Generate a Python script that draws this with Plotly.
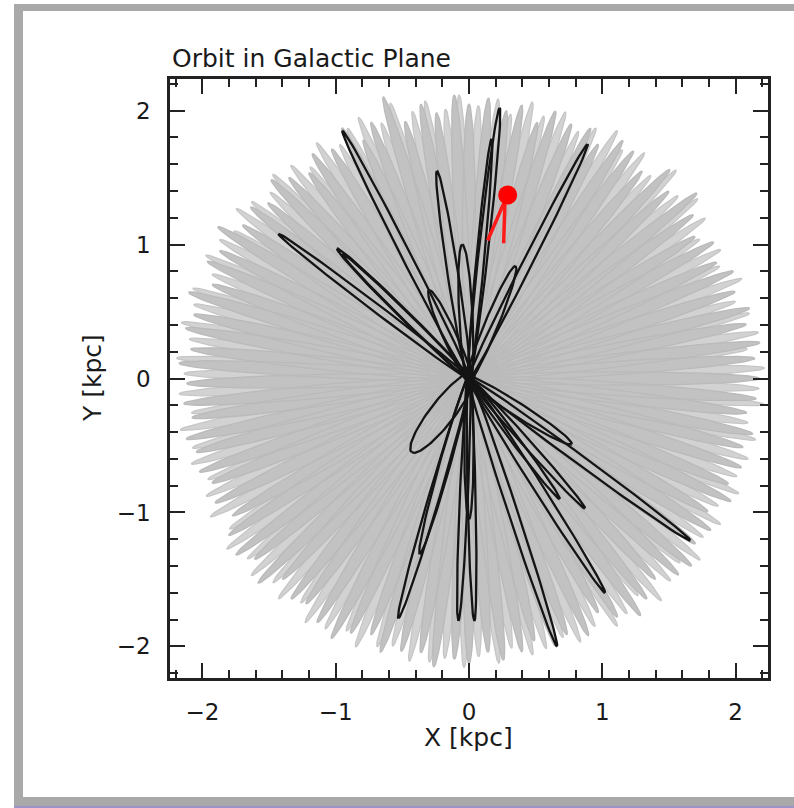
import numpy as np
import plotly.graph_objects as go

# ---- data (kpc) ----
# apocentre directions / radii of the grey background orbit loops
gray_tip_deg = [0, 4, 7, 11, 14, 18, 22, 25, 29, 32, 36, 39, 43, 46, 50, 54, 57, 61, 64, 68,
                72, 75, 79, 82, 86, 90, 93, 97, 100, 104, 107, 111, 114, 117, 121, 125, 128, 132,
                135, 139, 142, 146, 149, 153, 156, 160, 163, 167, 170, 174, 177, 181, 185, 188,
                192, 195, 199, 202, 206, 210, 213, 217, 220, 224, 227, 231, 234, 238, 242, 245,
                249, 252, 256, 260, 263, 267, 270, 274, 277, 281, 284, 288, 291, 295, 299, 302,
                306, 309, 313, 317, 320, 324, 328, 331, 335, 338, 342, 346, 349, 353, 356]
gray_tip_r = [2.18, 2.15, 2.20, 2.12, 2.17, 2.10, 2.14, 2.05, 2.10, 2.00, 2.08, 2.20, 2.05, 2.17,
              2.02, 2.10, 2.12, 2.00, 2.08, 2.05, 2.10, 1.98, 2.08, 2.02, 2.10, 2.05, 2.12, 2.00,
              2.08, 1.98, 2.20, 2.05, 1.95, 2.10, 2.00, 2.05, 1.95, 2.02, 2.10, 2.00, 2.08, 2.05,
              2.20, 2.10, 2.15, 2.05, 2.20, 2.12, 2.16, 2.10, 2.18, 2.12, 2.15, 2.10, 2.17, 2.12,
              2.14, 2.08, 2.12, 2.05, 2.15, 2.19, 2.10, 2.20, 2.05, 2.12, 2.08, 2.15, 2.20, 2.10,
              2.05, 2.15, 2.10, 2.08, 2.17, 2.10, 2.13, 2.05, 2.12, 2.08, 2.02, 2.10, 2.05, 2.12,
              2.00, 2.10, 2.19, 2.12, 2.05, 2.15, 2.18, 2.10, 2.14, 2.05, 2.17, 2.10, 2.15, 2.12,
              2.17, 2.10, 2.16]
# fainter outer loops lying between the main ones
halo_tip_deg = [2, 6, 9, 13, 16, 20, 24, 27, 31, 34, 38, 41, 45, 48, 52, 56, 59, 63, 66, 70,
                74, 77, 81, 84, 88, 92, 95, 99, 102, 106, 109, 113, 116, 119, 123, 127, 130, 134,
                137, 141, 144, 148, 151, 155, 158, 162, 165, 169, 172, 176, 179, 183, 187, 190,
                194, 197, 201, 204, 208, 212, 215, 219, 222, 226, 229, 233, 236, 240, 244, 247,
                251, 254, 258, 262, 265, 269, 272, 276, 279, 283, 286, 290, 293, 297, 301, 304,
                308, 311, 315, 319, 322, 326, 330, 333, 337, 340, 344, 348, 351, 355, 358]
halo_tip_r = [2.22, 2.10, 2.20, 2.16, 2.08, 2.18, 2.06, 2.12, 2.02, 2.14, 2.18, 2.08, 2.20, 2.04,
              2.14, 2.06, 2.16, 2.10, 2.02, 2.12, 2.04, 2.12, 2.00, 2.10, 2.04, 2.12, 2.02, 2.10,
              2.04, 2.14, 2.02, 2.12, 2.08, 2.00, 2.10, 1.98, 2.08, 2.12, 2.04, 2.10, 2.16, 2.08,
              2.14, 2.18, 2.08, 2.18, 2.14, 2.20, 2.12, 2.20, 2.14, 2.18, 2.10, 2.20, 2.14, 2.18,
              2.10, 2.16, 2.20, 2.12, 2.22, 2.14, 2.20, 2.12, 2.18, 2.10, 2.20, 2.16, 2.10, 2.18,
              2.12, 2.08, 2.16, 2.14, 2.10, 2.16, 2.08, 2.14, 2.04, 2.12, 2.10, 2.06, 2.14, 2.08,
              2.16, 2.12, 2.06, 2.20, 2.14, 2.10, 2.20, 2.12, 2.18, 2.10, 2.20, 2.14, 2.18, 2.20,
              2.12, 2.22, 2.18]
gray_core_r = 1.76

# apocentres and loop half-widths of the highlighted (black) orbit
orbit_tip_x = [-0.95, -1.43, -0.99, -0.95, -0.24, 0.23, 0.17, 0.89, 0.35, -0.05, -0.30,
               -0.43, -0.53, -0.37, -0.08, 0.04, 0.00, 0.66, 1.02, 1.66, 0.87, 0.77, 0.68]
orbit_tip_y = [1.85, 1.08, 0.97, 0.93, 1.55, 2.02, 1.79, 1.75, 0.84, 1.00, 0.66,
               -0.55, -1.79, -1.31, -1.81, -1.81, -1.05, -2.00, -1.60, -1.21, -0.97, -0.49, -0.90]
orbit_half_w = [0.035, 0.03, 0.035, 0.03, 0.04, 0.035, 0.03, 0.035, 0.05, 0.05, 0.05,
                0.09, 0.04, 0.04, 0.03, 0.03, 0.035, 0.035, 0.035, 0.035, 0.03, 0.05, 0.03]

# current position and recent track
star_x, star_y = [0.29], [1.37]
track_x = [0.14, 0.27, 0.26]
track_y = [1.03, 1.33, 1.01]

x_ticks = [-2, -1, 0, 1, 2]
y_ticks = [-2, -1, 0, 1, 2]


def loop_path(tx, ty, half_w, tail, n=90):
    """Closed narrow loop from just behind the centre out to an apocentre."""
    r = np.hypot(tx, ty)
    ux, uy = tx / r, ty / r
    nx, ny = -uy, ux
    a = (r + tail) / 2.0
    cx, cy = ux * (r - tail) / 2.0, uy * (r - tail) / 2.0
    t = np.linspace(0, 2 * np.pi, n)
    xs = cx + a * np.cos(t) * ux + half_w * np.sin(t) * nx
    ys = cy + a * np.cos(t) * uy + half_w * np.sin(t) * ny
    return xs, ys


def joined(paths):
    xs, ys = [], []
    for px, py in paths:
        xs += list(px) + [None]
        ys += list(py) + [None]
    return xs, ys


def polar_loops(degs, radii, half_w):
    paths = []
    for deg, r in zip(degs, radii):
        th = np.deg2rad(deg)
        paths.append(loop_path(r * np.cos(th), r * np.sin(th), half_w, 0.0))
    return joined(paths)


hx, hy = polar_loops(halo_tip_deg, halo_tip_r, 0.045)
gx, gy = polar_loops(gray_tip_deg, gray_tip_r, 0.05)

black_paths = [loop_path(x, y, w, 0.05)
               for x, y, w in zip(orbit_tip_x, orbit_tip_y, orbit_half_w)]
bx, by = joined(black_paths)

fig = go.Figure()
fig.add_trace(go.Scatter(x=hx, y=hy, mode="lines", fill="toself",
                         fillcolor="#d2d2d2", line=dict(color="#c6c6c6", width=1.3),
                         hoverinfo="skip", showlegend=False))
fig.add_trace(go.Scatter(x=gx, y=gy, mode="lines", fill="toself",
                         fillcolor="#c2c2c2", line=dict(color="#bababa", width=1.3),
                         hoverinfo="skip", showlegend=False))
fig.add_trace(go.Scatter(x=bx, y=by, mode="lines",
                         line=dict(color="#141414", width=2.3),
                         hoverinfo="skip", showlegend=False))
fig.add_trace(go.Scatter(x=track_x, y=track_y, mode="lines",
                         line=dict(color="#ff1a1a", width=3.5),
                         hoverinfo="skip", showlegend=False))
fig.add_trace(go.Scatter(x=star_x, y=star_y, mode="markers",
                         marker=dict(color="#ff0000", size=19),
                         hoverinfo="skip", showlegend=False))

# plot-area geometry in pixels
W, H = 794, 808
PL, PR, PT, PB = 170, 768, 79, 678


def paper_x(px):
    return (px - PL) / (PR - PL)


def paper_y(py):
    return (PB - py) / (PB - PT)


shapes = [
    dict(type="circle", xref="x", yref="y", x0=-gray_core_r, x1=gray_core_r,
         y0=-gray_core_r, y1=gray_core_r, fillcolor="#c2c2c2",
         line=dict(width=0), layer="below"),
]
border = "#a9a9a9"
for x0, x1, y0, y1, col in [(14, 794, 4, 11, border), (14, 23, 4, 806, border),
                            (14, 794, 797, 806, border), (14, 794, 806, 808, "#9d93c8")]:
    shapes.append(dict(type="rect", xref="paper", yref="paper",
                       x0=paper_x(x0), x1=paper_x(x1), y0=paper_y(y1), y1=paper_y(y0),
                       fillcolor=col, line=dict(width=0), layer="above"))

label_font = dict(family="DejaVu Sans", size=25, color="#1a1a1a")
annotations = [
    dict(text="Orbit in Galactic Plane", xref="paper", yref="paper",
         x=paper_x(170), y=paper_y(59), xanchor="left", yanchor="middle",
         showarrow=False, font=label_font),
    dict(text="X [kpc]", xref="paper", yref="paper",
         x=paper_x(468), y=paper_y(737), xanchor="center", yanchor="middle",
         showarrow=False, font=label_font),
    dict(text="Y [kpc]", xref="paper", yref="paper",
         x=paper_x(92), y=paper_y(378), xanchor="center", yanchor="middle",
         textangle=-90, showarrow=False, font=label_font),
]

axis_style = dict(
    showgrid=False, zeroline=False, showline=True, linewidth=2.5, linecolor="#222222",
    mirror="allticks", ticks="inside", ticklen=15, tickwidth=2, tickcolor="#222222",
    tickfont=dict(family="DejaVu Sans", size=23, color="#1a1a1a"),
    ticklabelstandoff=12,
    minor=dict(ticks="inside", dtick=0.2, ticklen=8, tickwidth=1.5, tickcolor="#222222"),
    fixedrange=True,
)

fig.update_layout(
    width=W, height=H,
    margin=dict(l=PL, r=W - PR, t=PT, b=H - PB),
    paper_bgcolor="white", plot_bgcolor="white",
    xaxis=dict(range=[-2.243, 2.243], tickvals=x_ticks, **axis_style),
    yaxis=dict(range=[-2.236, 2.236], tickvals=y_ticks, **axis_style),
    shapes=shapes, annotations=annotations,
    showlegend=False,
)

fig.write_html("out.html")
